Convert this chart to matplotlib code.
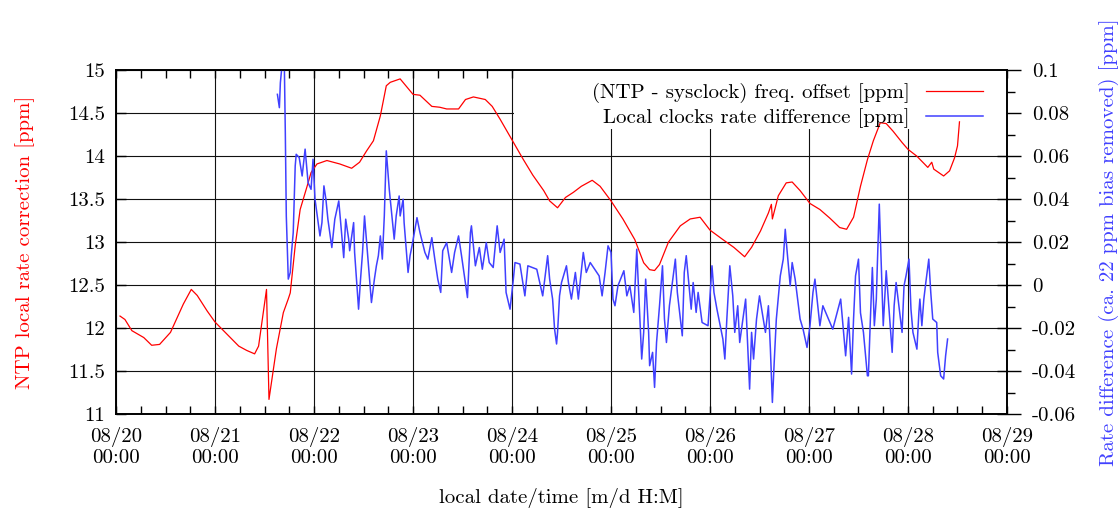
import matplotlib
matplotlib.use('Agg')
import matplotlib.pyplot as plt
from matplotlib.ticker import FixedLocator, MultipleLocator, FuncFormatter
from matplotlib.patches import Rectangle

plt.rcParams['font.family'] = 'cmr10'
plt.rcParams['axes.unicode_minus'] = False
plt.rcParams['mathtext.fontset'] = 'cm'
plt.rcParams['font.size'] = 15

# time in days since 08/20 00:00
red_t = [0.04, 0.09, 0.16, 0.28, 0.36, 0.44, 0.55, 0.68, 0.76, 0.82, 0.92, 1.00,
         1.12, 1.24, 1.32, 1.40, 1.44, 1.52, 1.545, 1.62, 1.69, 1.74, 1.76, 1.81,
         1.86, 1.93, 1.97, 2.03, 2.13, 2.26, 2.38, 2.46, 2.53, 2.60, 2.67, 2.73,
         2.77, 2.87, 3.00, 3.07, 3.19, 3.27, 3.34, 3.46, 3.53, 3.61, 3.73, 3.80,
         3.88, 4.01, 4.11, 4.21, 4.32, 4.38, 4.46, 4.54, 4.62, 4.70, 4.81, 4.89,
         5.00, 5.12, 5.24, 5.33, 5.39, 5.44, 5.49, 5.58, 5.70, 5.80, 5.90, 6.00,
         6.13, 6.24, 6.35, 6.42, 6.51, 6.59, 6.62, 6.63, 6.69, 6.77, 6.83, 6.91,
         7.01, 7.11, 7.21, 7.31, 7.38, 7.45, 7.52, 7.59, 7.65, 7.72, 7.78, 7.85,
         7.94, 8.00, 8.09, 8.20, 8.24, 8.26, 8.36, 8.42, 8.47, 8.50, 8.52]
red_v = [12.14, 12.10, 11.97, 11.89, 11.80, 11.81, 11.95, 12.28, 12.45, 12.38, 12.20, 12.07,
         11.93, 11.79, 11.74, 11.70, 11.79, 12.45, 11.17, 11.76, 12.18, 12.34, 12.41, 12.96,
         13.38, 13.65, 13.81, 13.91, 13.95, 13.91, 13.86, 13.93, 14.06, 14.18, 14.47, 14.82,
         14.86, 14.90, 14.72, 14.71, 14.58, 14.57, 14.55, 14.55, 14.66, 14.69, 14.66, 14.58,
         14.43, 14.17, 13.97, 13.78, 13.60, 13.48, 13.40, 13.52, 13.58, 13.65, 13.72, 13.65,
         13.48, 13.27, 13.03, 12.76, 12.68, 12.67, 12.74, 13.00, 13.19, 13.27, 13.29, 13.14,
         13.03, 12.94, 12.83, 12.94, 13.13, 13.34, 13.44, 13.27, 13.54, 13.69, 13.70, 13.60,
         13.45, 13.38, 13.28, 13.17, 13.15, 13.29, 13.65, 13.96, 14.18, 14.39, 14.38, 14.29,
         14.16, 14.08, 14.00, 13.87, 13.93, 13.85, 13.77, 13.83, 13.98, 14.12, 14.40]

blue_t = [1.63, 1.65, 1.66, 1.68, 1.70, 1.71, 1.72, 1.74, 1.76, 1.77, 1.79, 1.81, 1.82,
          1.85, 1.88, 1.91, 1.94, 1.97, 1.99, 2.01, 2.06, 2.08, 2.10, 2.12, 2.14, 2.18,
          2.21, 2.25, 2.30, 2.32, 2.35, 2.36, 2.40, 2.41, 2.45, 2.47, 2.49, 2.51, 2.55,
          2.58, 2.61, 2.63, 2.65, 2.67, 2.69, 2.71, 2.73, 2.76, 2.81, 2.83, 2.86, 2.87,
          2.90, 2.91, 2.95, 2.97, 2.99, 3.04, 3.07, 3.12, 3.15, 3.19, 3.22, 3.25, 3.28,
          3.30, 3.34, 3.39, 3.42, 3.46, 3.49, 3.55, 3.58, 3.59, 3.63, 3.67, 3.70, 3.74,
          3.77, 3.81, 3.85, 3.88, 3.92, 3.94, 3.98, 4.01, 4.03, 4.08, 4.13, 4.16, 4.25,
          4.31, 4.36, 4.38, 4.41, 4.43, 4.45, 4.46, 4.48, 4.50, 4.55, 4.57, 4.60, 4.64,
          4.67, 4.72, 4.75, 4.79, 4.88, 4.91, 4.94, 4.97, 5.00, 5.02, 5.04, 5.07, 5.13,
          5.16, 5.19, 5.23, 5.26, 5.31, 5.33, 5.35, 5.38, 5.39, 5.42, 5.44, 5.46, 5.49,
          5.52, 5.54, 5.56, 5.59, 5.65, 5.67, 5.72, 5.74, 5.76, 5.81, 5.83, 5.86, 5.88,
          5.92, 5.98, 6.02, 6.04, 6.07, 6.13, 6.15, 6.17, 6.20, 6.23, 6.25, 6.28, 6.30,
          6.36, 6.40, 6.42, 6.44, 6.47, 6.50, 6.56, 6.59, 6.61, 6.63, 6.65, 6.67, 6.71,
          6.74, 6.76, 6.78, 6.81, 6.83, 6.86, 6.91, 6.94, 6.98, 7.01, 7.04, 7.06, 7.11,
          7.14, 7.24, 7.32, 7.37, 7.40, 7.43, 7.45, 7.47, 7.50, 7.52, 7.55, 7.59, 7.60,
          7.62, 7.64, 7.66, 7.68, 7.69, 7.71, 7.73, 7.75, 7.78, 7.84, 7.86, 7.88, 7.94,
          7.96, 7.98, 8.01, 8.03, 8.05, 8.09, 8.11, 8.12, 8.14, 8.16, 8.18, 8.21, 8.23,
          8.25, 8.29, 8.30, 8.33, 8.36, 8.38, 8.40]
blue_v = [0.0888, 0.0826, 0.0942, 0.104, 0.103, 0.071, 0.0322, 0.0028, 0.0059, 0.0137, 0.0245, 0.0555, 0.0609,
          0.0594, 0.0508, 0.0633, 0.0477, 0.0446, 0.0586, 0.040, 0.0229, 0.0291, 0.0462, 0.040, 0.0307, 0.0175,
          0.0307, 0.0392, 0.0128, 0.0307, 0.0214, 0.0160, 0.0291, 0.0152, -0.0112, 0.0028, 0.0152, 0.0322, 0.009,
          -0.0081, 0.0028, 0.009, 0.0137, 0.0229, 0.0121, 0.0322, 0.0625, 0.0446, 0.0214, 0.0322, 0.0415, 0.0322,
          0.040, 0.0291, 0.0059, 0.0137, 0.0183, 0.0314, 0.0245, 0.0152, 0.0121, 0.0221, 0.0121, 0.0028, -0.0034,
          0.016, 0.0198, 0.0059, 0.0152, 0.0229, 0.0137, -0.0058, 0.0245, 0.0276, 0.009, 0.0175, 0.0074, 0.0198,
          0.0105, 0.0082, 0.0276, 0.0152, 0.0214, -0.0034, -0.0112, 0.0012, 0.0105, 0.0098, -0.005, 0.009, 0.0074,
          -0.005, 0.0137, 0.0028, -0.0065, -0.0205, -0.0274, -0.022, -0.005, 0.0012, 0.009, 0.0012, -0.0065, 0.0059,
          -0.0065, 0.0152, 0.0059, 0.0105, 0.0043, -0.005, 0.0059, 0.0183, 0.0152, -0.0065, -0.0096, -0.0003, 0.0067,
          -0.005, -0.0003, -0.0127, 0.0167, -0.0344, -0.022, 0.0028, -0.022, -0.0375, -0.0313, -0.0476, -0.0267, -0.0096,
          0.009, -0.0158, -0.0267, -0.0096, 0.0121, -0.0034, -0.0236, 0.0059, 0.0137, -0.0112, 0.0012, -0.0127, -0.0034,
          -0.0174, -0.0189, 0.009, -0.0034, -0.0112, -0.0251, -0.0344, -0.0158, 0.009, -0.005, -0.022, -0.0096, -0.0267,
          -0.0065, -0.0484, -0.022, -0.0344, -0.0158, -0.005, -0.022, -0.0096, -0.0298, -0.0546, -0.0344, -0.0158, 0.0043,
          0.0121, 0.026, 0.0152, -0.0003, 0.0105, 0.0028, -0.0158, -0.0205, -0.029, -0.0189, -0.0034, 0.0028, -0.0189,
          -0.0096, -0.0205, -0.0065, -0.0329, -0.015, -0.0414, -0.0158, 0.0043, 0.0121, -0.0129, -0.022, -0.0422, -0.0422,
          -0.0158, 0.0082, -0.0189, -0.0065, 0.009, 0.0377, 0.009, -0.0189, 0.0067, -0.0313, -0.0096, 0.0012, -0.022,
          -0.0003, 0.0043, 0.0121, -0.0112, -0.022, -0.0298, -0.0127, -0.0065, -0.0189, -0.0065, 0.0012, 0.0121, -0.0034,
          -0.0158, -0.0174, -0.0313, -0.0422, -0.0437, -0.0329, -0.0251]

day_labels = ['08/20', '08/21', '08/22', '08/23', '08/24', '08/25', '08/26', '08/27', '08/28', '08/29']

red = '#ff0000'
blue = '#4040ff'

fig = plt.figure(figsize=(11.2, 5.09), dpi=100)
ax = fig.add_axes([0.1036, 0.1866, 0.7955, 0.6753])
ax2 = ax.twinx()

# grid behind, white box under the key, curves on top
ax.set_axisbelow(True)
ax.grid(True, which='major', color='#111111', lw=0.8)
ax.add_patch(Rectangle((0.4467, 0.8285), 0.5533, 0.1715, transform=ax.transAxes,
                       facecolor='white', edgecolor='none', zorder=1))

l1, = ax.plot(red_t, red_v, color=red, lw=0.9, zorder=2,
              label='(NTP - sysclock) freq. offset [ppm]')
l2, = ax2.plot(blue_t, blue_v, color=blue, lw=1.1,
               label='Local clocks rate difference [ppm]')

ax.set_xlim(0, 9)
ax.set_ylim(11, 15)
ax2.set_ylim(-0.06, 0.1)

ax.xaxis.set_major_locator(FixedLocator(range(10)))
ax.xaxis.set_minor_locator(MultipleLocator(0.25))
ax.set_xticklabels([d + '\n00:00' for d in day_labels])
ax.tick_params(axis='x', which='both', direction='in', top=True, bottom=True,
               length=6, width=1, pad=9)

ax.yaxis.set_major_locator(MultipleLocator(0.5))
ax.yaxis.set_major_formatter(FuncFormatter(lambda v, p: '%g' % v))
ax.tick_params(axis='y', which='major', direction='in', left=True, right=True,
               length=7, width=1, pad=8)

ax2.yaxis.set_major_locator(MultipleLocator(0.02))
ax2.yaxis.set_minor_locator(MultipleLocator(0.01))
ax2.yaxis.set_major_formatter(FuncFormatter(lambda v, p: '%g' % round(v, 4)))
ax2.tick_params(axis='y', which='major', direction='out', length=10, width=1, pad=8)
ax2.tick_params(axis='y', which='minor', direction='out', length=6, width=1)

for a in (ax, ax2):
    for s in a.spines.values():
        s.set_linewidth(1.2)

ax.set_xlabel('local date/time [m/d H:M]')
ax.xaxis.set_label_coords(0.5, -0.215)
ax.set_ylabel('NTP local rate correction [ppm]', color=red)
ax.yaxis.set_label_coords(-0.091, 0.5)
ax2.set_ylabel('Rate difference (ca. 22 ppm bias removed) [ppm]', color=blue)
ax2.yaxis.set_label_coords(1.103, 0.5)

ax2.legend(handles=[l1, l2], loc='upper right', bbox_to_anchor=(0.973, 0.962),
           markerfirst=False, frameon=False, borderpad=0, borderaxespad=0,
           handlelength=2.75, handletextpad=0.75, labelspacing=0.25)

fig.savefig('out.png', dpi=100)
